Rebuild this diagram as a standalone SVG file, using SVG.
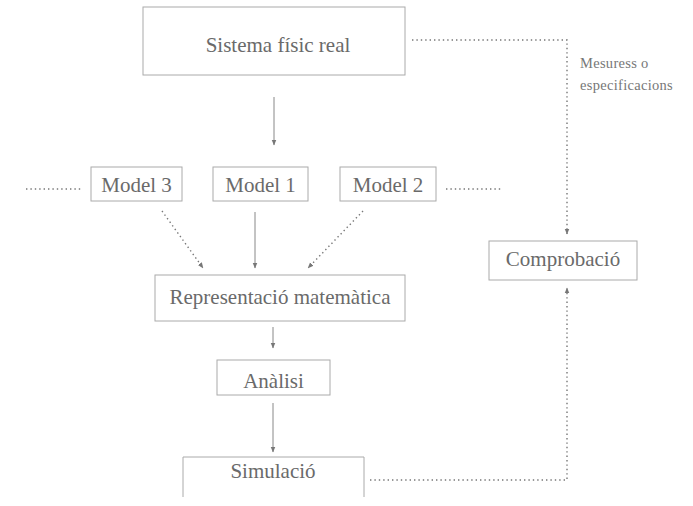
<svg xmlns="http://www.w3.org/2000/svg" width="693" height="506" viewBox="0 0 693 506">
<defs>
<marker id="ah" viewBox="0 0 10 10" refX="9" refY="5" markerWidth="6" markerHeight="7" orient="auto" markerUnits="userSpaceOnUse">
<path d="M0,1 L10,5 L0,9 Z" fill="#777"/>
</marker>
<style>
.box{fill:#fff;stroke:#aaa;stroke-width:1}
.t{font-family:"Liberation Serif","Times New Roman",serif;font-size:21px;fill:#6a6a6a;text-anchor:middle}
.s{font-family:"Liberation Serif","Times New Roman",serif;font-size:14.5px;fill:#777;letter-spacing:0.3px}
.ln{fill:none;stroke:#888;stroke-width:1}
.dot{fill:none;stroke:#777;stroke-width:1.4;stroke-dasharray:1.4 3}
</style>
</defs>
<rect width="693" height="506" fill="#fff"/>
<g id="connectors">
<line class="ln" x1="274" y1="97" x2="274" y2="145" marker-end="url(#ah)"/>
<line class="ln" x1="255" y1="212" x2="255" y2="268" marker-end="url(#ah)"/>
<line class="dot" x1="162" y1="211" x2="203" y2="268" marker-end="url(#ah)"/>
<line class="dot" x1="363" y1="211" x2="308" y2="268" marker-end="url(#ah)"/>
<line class="ln" x1="273" y1="327" x2="273" y2="348" marker-end="url(#ah)"/>
<line class="ln" x1="273" y1="403" x2="273" y2="452" marker-end="url(#ah)"/>
<line class="dot" x1="26" y1="189" x2="83" y2="189"/>
<line class="dot" x1="446" y1="189" x2="501" y2="189"/>
<path class="dot" d="M412,40 H567 V234" marker-end="url(#ah)"/>
<path class="dot" d="M370,480 H567 V288" marker-end="url(#ah)"/>
<text class="s" x="580" y="68">Mesuress o</text>
<text class="s" x="580" y="90">especificacions</text>
</g>
<g id="sistema">
<rect class="box" x="143" y="7" width="262" height="68"/>
<text class="t" x="278" y="52">Sistema físic real</text>
</g>
<g id="model3">
<rect class="box" x="91" y="167" width="91" height="34"/>
<text class="t" x="136.5" y="192">Model 3</text>
</g>
<g id="model1">
<rect class="box" x="213" y="167" width="95" height="34"/>
<text class="t" x="260.5" y="192">Model 1</text>
</g>
<g id="model2">
<rect class="box" x="340" y="167" width="96" height="34"/>
<text class="t" x="388" y="192">Model 2</text>
</g>
<g id="representacio">
<rect class="box" x="155" y="275" width="250" height="46"/>
<text class="t" x="280" y="304">Representació matemàtica</text>
</g>
<g id="analisi">
<rect class="box" x="217" y="360" width="113" height="35"/>
<text class="t" x="273.5" y="388">Anàlisi</text>
</g>
<g id="simulacio">
<path class="box" d="M183,497 V457 H364 V497"/>
<text class="t" x="273" y="478">Simulació</text>
</g>
<g id="comprobacio">
<rect class="box" x="489" y="241" width="148" height="39"/>
<text class="t" x="563" y="266">Comprobació</text>
</g>
</svg>
